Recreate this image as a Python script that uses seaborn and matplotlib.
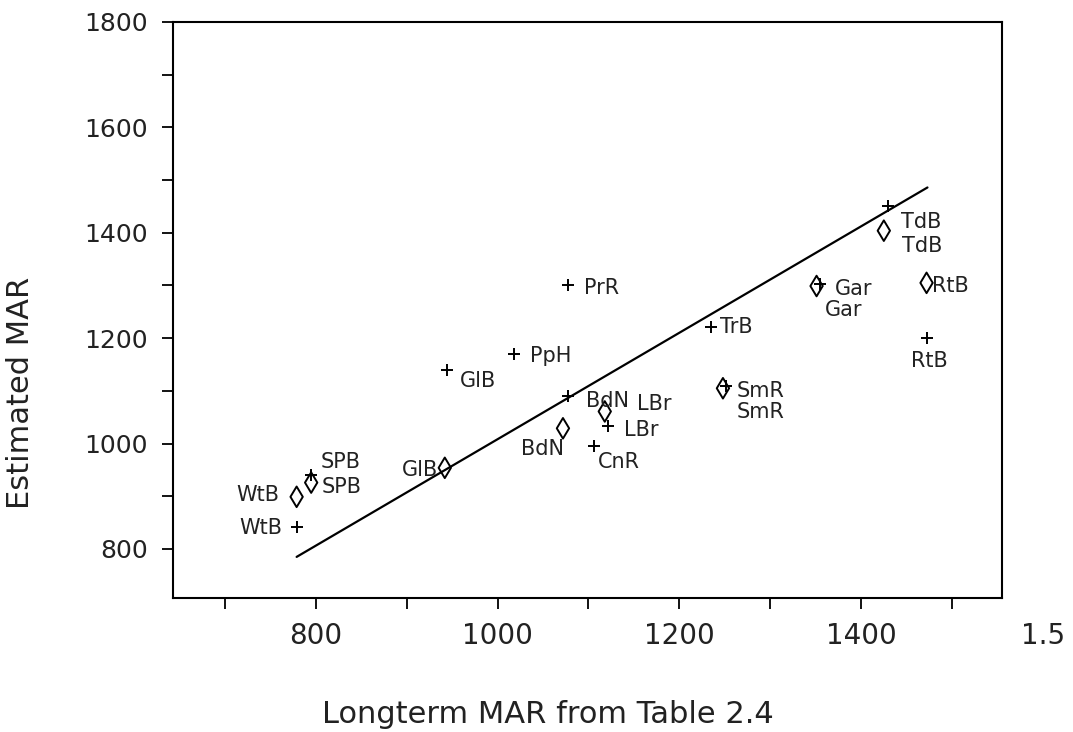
import matplotlib
matplotlib.use("Agg")
import matplotlib.pyplot as plt
import matplotlib.transforms as mtransforms
import seaborn as sns
import pandas as pd

# ---- data ----
plus_names = ["WtB", "SPB", "GlB", "PpH", "PrR", "BdN", "CnR", "LBr", "SmR", "TrB", "Gar", "TdB", "RtB"]
plus_x = [779, 795, 944, 1018, 1077, 1077, 1106, 1122, 1251, 1235, 1355, 1430, 1472]
plus_y = [842, 941, 1139, 1170, 1301, 1090, 996, 1034, 1109, 1221, 1303, 1451, 1200]

diam_names = ["WtB", "SPB", "GlB", "BdN", "LBr", "SmR", "Gar", "TdB", "RtB"]
diam_x = [779, 795, 942, 1072, 1118, 1248, 1351, 1425, 1472]
diam_y = [899, 926, 954, 1029, 1061, 1105, 1299, 1404, 1305]

line_x = [779, 1473]
line_y = [785, 1486]

x_tick_values = [800, 1000, 1200, 1400, 1600]
x_tick_labels = ["800", "1000", "1200", "1400", "1.5"]
y_tick_values = [800, 1000, 1200, 1400, 1600, 1800]
y_tick_labels = ["800", "1000", "1200", "1400", "1600", "1800"]

x_label = "Longterm MAR from Table 2.4"
y_label = "Estimated MAR"

# ---- label placement (offset pixels, alignment) ----
plus_offsets = [(-14, -1, "right"), (9, 13, "left"), (13, -11, "left"), (16, -2, "left"),
                (16, -3, "left"), (18, -5, "left"), (4, -16, "left"), (16, -4, "left"),
                (11, -26, "left"), (9, 0, "left"), (5, -26, "left"), (13, -16, "left"),
                (3, -23, "center")]
diam_offsets = [(-17, 2, "right"), (10, -4, "left"), (-7, -2, "right"), (-20, -21, "center"),
                (32, 7, "left"), (14, -3, "left"), (18, -3, "left"), (18, -15, "left"),
                (5, -3, "left")]

sns.set_theme(style="ticks")
plt.rcParams["font.family"] = ["DejaVu Sans"]
plt.rcParams["axes.linewidth"] = 1.5

fig = plt.figure(figsize=(10.73, 7.32), dpi=100)
ax = fig.add_axes([173 / 1073, 1 - 598 / 732, 829 / 1073, 576 / 732])

df_plus = pd.DataFrame({"x": plus_x, "y": plus_y})
df_diam = pd.DataFrame({"x": diam_x, "y": diam_y})
df_line = pd.DataFrame({"x": line_x, "y": line_y})

sns.lineplot(data=df_line, x="x", y="y", color="black", linewidth=1.6, ax=ax)
sns.scatterplot(data=df_plus, x="x", y="y", marker="+", s=75, color="black",
                linewidth=1.4, ax=ax, zorder=3)
sns.scatterplot(data=df_diam, x="x", y="y", marker="d", s=110, facecolor="none",
                edgecolor="black", linewidth=1.4, ax=ax, zorder=3)

for name, x, y, (dx, dy, ha) in zip(plus_names, plus_x, plus_y, plus_offsets):
    ax.annotate(name, (x, y), xytext=(dx, dy), textcoords="offset pixels",
                ha=ha, va="center", fontsize=15, color="#222222")
for name, x, y, (dx, dy, ha) in zip(diam_names, diam_x, diam_y, diam_offsets):
    ax.annotate(name, (x, y), xytext=(dx, dy), textcoords="offset pixels",
                ha=ha, va="center", fontsize=15, color="#222222")

ax.set_xlim(643, 1555)
ax.set_ylim(707, 1800)

xmin, xmax = ax.get_xlim()
inside = [(v, l) for v, l in zip(x_tick_values, x_tick_labels) if xmin <= v <= xmax]
outside = [(v, l) for v, l in zip(x_tick_values, x_tick_labels) if not (xmin <= v <= xmax)]
ax.set_xticks([v for v, _ in inside])
ax.set_xticklabels([l for _, l in inside])
ax.set_xticks(list(range(700, 1501, 100)), minor=True)
ax.set_yticks(y_tick_values)
ax.set_yticklabels(y_tick_labels)
ax.set_yticks(list(range(900, 1800, 200)), minor=True)

ax.tick_params(axis="both", which="both", direction="out", length=8, width=1.3,
               color="black")
ax.tick_params(axis="x", which="major", labelsize=20, pad=9, labelcolor="#222222")
ax.tick_params(axis="y", which="major", labelsize=18, pad=10, labelcolor="#222222")

trans = mtransforms.blended_transform_factory(ax.transData, ax.transAxes)
for v, l in outside:
    ax.text(v, -0.042, l, transform=trans, ha="center", va="top", fontsize=20,
            color="#222222", clip_on=False)

ax.set_xlabel(x_label, fontsize=22, color="#222222")
ax.set_ylabel(y_label, fontsize=22, color="#222222")
ax.xaxis.set_label_coords(0.452, -0.177)
ax.yaxis.set_label_coords(-0.166, 0.356)

for sp in ax.spines.values():
    sp.set_color("black")
    sp.set_linewidth(1.5)

fig.savefig("out.png", dpi=100)
